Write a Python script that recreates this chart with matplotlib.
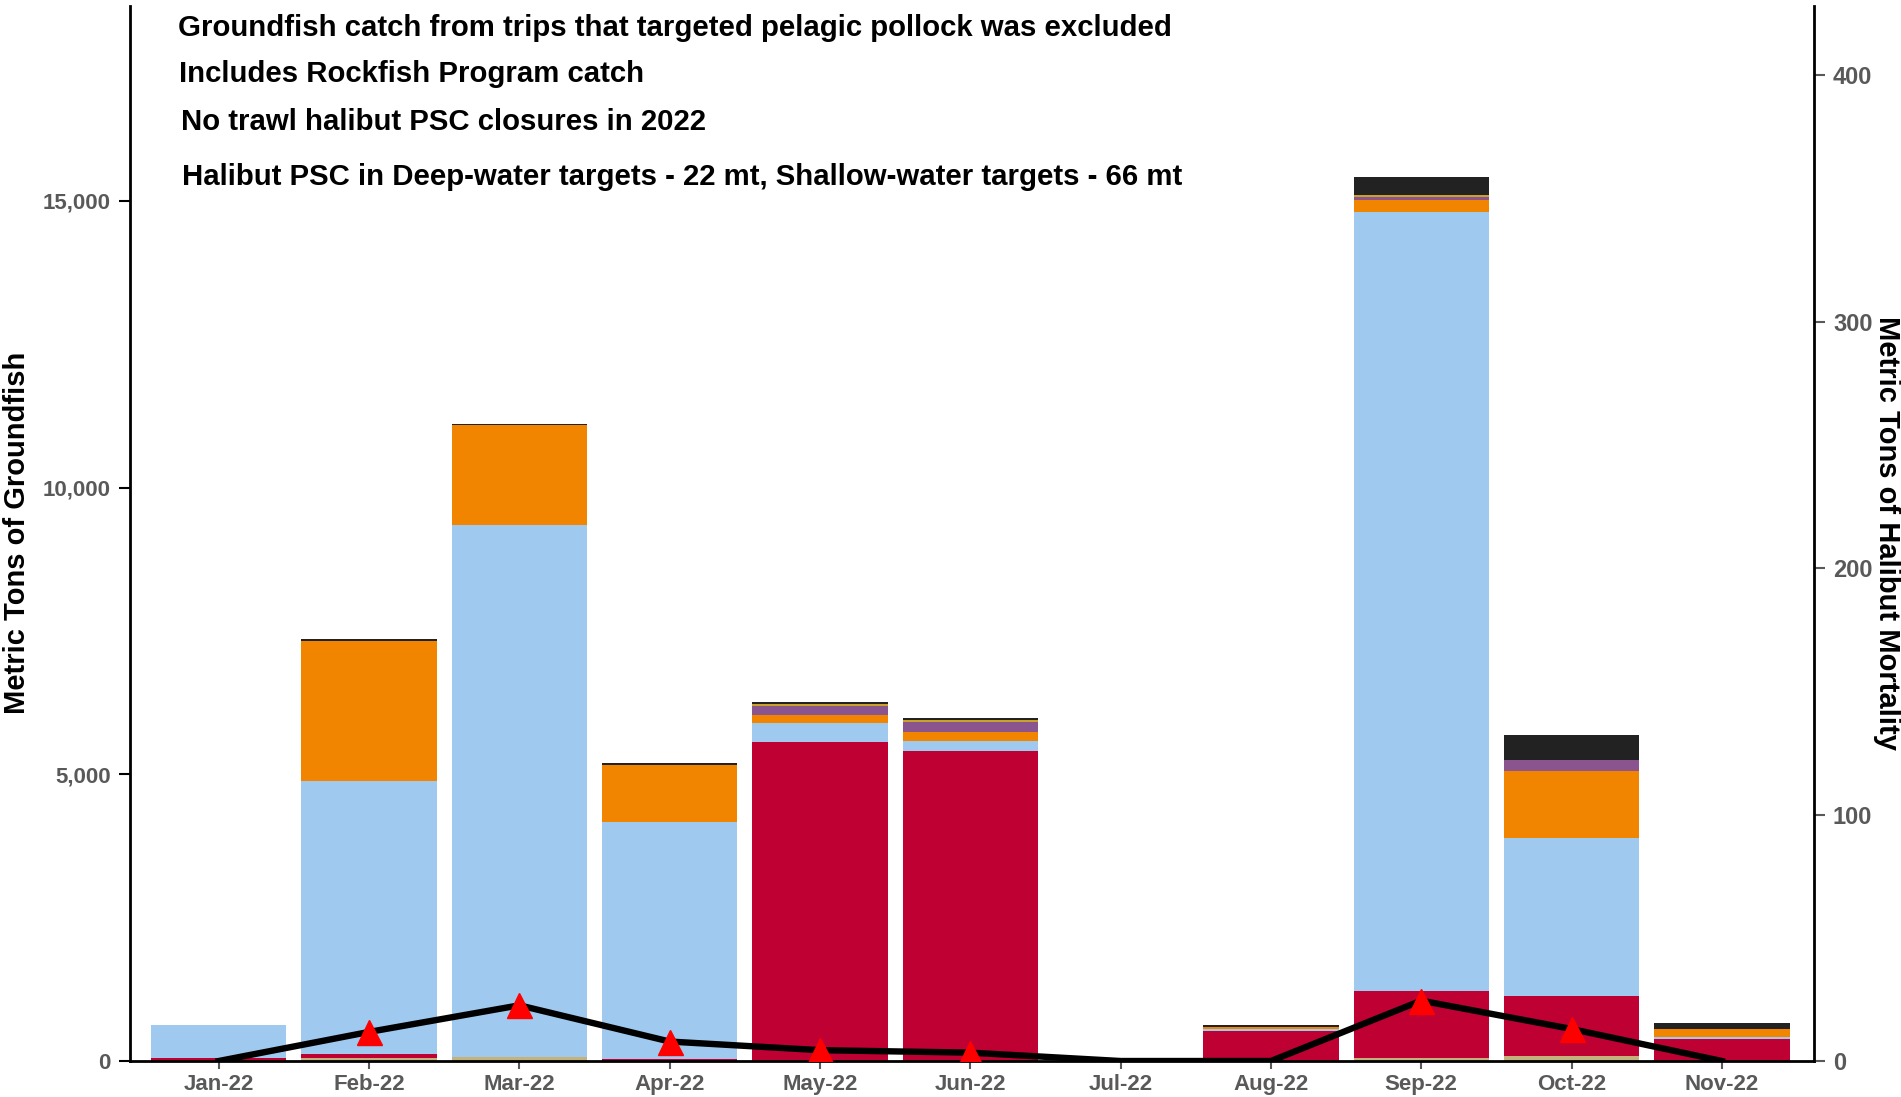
import numpy as np
import matplotlib
matplotlib.use('Agg')
import matplotlib.pyplot as plt
from matplotlib.ticker import FuncFormatter

# 月份
months = ['Jan-22', 'Feb-22', 'Mar-22', 'Apr-22', 'May-22', 'Jun-22',
          'Jul-22', 'Aug-22', 'Sep-22', 'Oct-22', 'Nov-22']

# 各类别渔获量（公吨），自下而上堆叠
tan    = [0,   55,   70,   0,    0,    0,    0, 0,   47,    87,   0]
red    = [55,  65,   0,    30,   5560, 5400, 0, 529, 1175,  1047, 378]
blue   = [565, 4770, 9280, 4140, 330,  175,  0, 23,  13590, 2750, 41]
orange = [0,   2430, 1735, 995,  140,  157,  0, 40,  198,   1174, 134]
purple = [0,   0,    0,    0,    170,  180,  0, 0,   64,    198,  0]
gold   = [0,   0,    0,    0,    30,   29,   0, 0,   35,    0,    0]
black  = [0,   40,   25,   25,   23,   35,   0, 29,  308,   424,  105]

# 大比目鱼死亡量（公吨）
halibut = [0, 11.8, 22.6, 7.9, 4.4, 3.4, 0, 0, 24.5, 13.0, 0]

layers = [
    (tan, '#C4B27D'),
    (red, '#BE0032'),
    (blue, '#9FC9EE'),
    (orange, '#F28500'),
    (purple, '#8A558E'),
    (gold, '#C9A227'),
    (black, '#222222'),
]

FONT = ['Liberation Sans', 'DejaVu Sans']

fig = plt.figure(figsize=(19.01, 10.97), dpi=100)
ax = fig.add_axes([0.0684, 0.0328, 0.954 - 0.0684, 0.9617])

x = np.arange(len(months))
bottom = np.zeros(len(months))
for vals, col in layers:
    vals = np.array(vals, dtype=float)
    ax.bar(x, vals, width=0.9, bottom=bottom, color=col, linewidth=0)
    bottom += vals

ax.set_xlim(-0.59, 10.61)
ax.set_ylim(0, 18400)
ax.set_yticks([0, 5000, 10000, 15000])
ax.yaxis.set_major_formatter(FuncFormatter(lambda v, p: f'{int(v):,}'))
ax.set_xticks(x)
ax.set_xticklabels(months)
for s in ['top', 'right']:
    ax.spines[s].set_visible(False)
for s in ['left', 'bottom']:
    ax.spines[s].set_linewidth(2)
    ax.spines[s].set_color('black')
ax.tick_params(axis='y', length=8, width=1.5, colors='black', labelcolor='#595959',
               labelsize=16, pad=6)
ax.tick_params(axis='x', length=6, width=1.5, colors='#595959', labelcolor='#595959',
               labelsize=16, pad=3)
for lab in ax.get_xticklabels() + ax.get_yticklabels():
    lab.set_fontweight('bold')
    lab.set_family(FONT)

ax2 = ax.twinx()
ax2.set_ylim(0, 428)
ax2.set_yticks([0, 100, 200, 300, 400])
ax2.plot(x, halibut, color='black', linewidth=4.6, zorder=3)
hx = [i for i, v in enumerate(halibut) if v > 0]
ax2.plot(hx, [halibut[i] for i in hx], linestyle='none', marker='^',
         markersize=18, color='#FF0000', zorder=4)
for s in ['top', 'left', 'bottom']:
    ax2.spines[s].set_visible(False)
ax2.spines['right'].set_linewidth(2)
ax2.tick_params(axis='y', length=8, width=1.5, colors='#595959', labelcolor='#595959',
                labelsize=17, pad=6)
for lab in ax2.get_yticklabels():
    lab.set_fontweight('bold')
    lab.set_family(FONT)

fig.text(17 / 1901, 1 - 533 / 1097, 'Metric Tons of Groundfish', rotation=90,
         ha='center', va='center', fontsize=21, fontweight='bold', family=FONT)
fig.text(1887 / 1901, 1 - 533 / 1097, 'Metric Tons of Halibut Mortality', rotation=-90,
         ha='center', va='center', fontsize=21, fontweight='bold', family=FONT)

notes = [
    ('Groundfish catch from trips that targeted pelagic pollock was excluded', 178, 28),
    ('Includes Rockfish Program catch', 179, 74),
    ('No trawl halibut PSC closures in 2022', 181, 122),
    ('Halibut PSC in Deep-water targets - 22 mt, Shallow-water targets - 66 mt', 182, 177),
]
for txt, px, py in notes:
    fig.text(px / 1901, 1 - py / 1097, txt, ha='left', va='center',
             fontsize=21.2, fontweight='bold', family=FONT)

plt.savefig('out.png', dpi=100, facecolor='white')
